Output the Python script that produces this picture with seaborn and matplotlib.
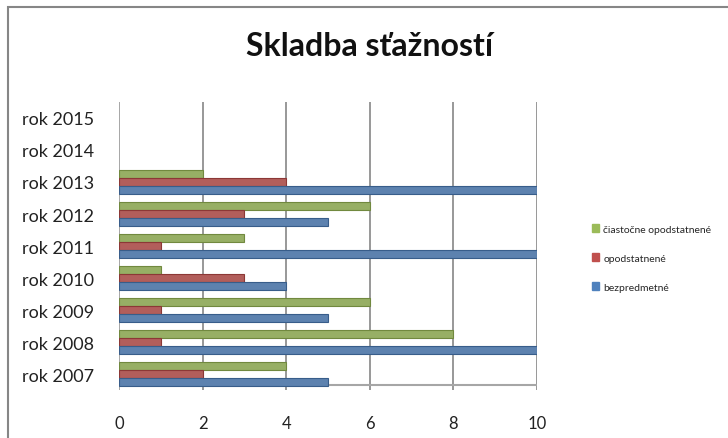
import numpy as np
import pandas as pd
import matplotlib
matplotlib.use('Agg')
import matplotlib.pyplot as plt
import seaborn as sns
from matplotlib.patches import Rectangle

# Data
years = ['rok 2007', 'rok 2008', 'rok 2009', 'rok 2010', 'rok 2011',
         'rok 2012', 'rok 2013', 'rok 2014', 'rok 2015']
bezpredmetne = [5, 10, 5, 4, 10, 5, 10, 0, 0]
opodstatnene = [2, 1, 1, 3, 1, 3, 4, 0, 0]
ciastocne = [4, 8, 6, 1, 3, 6, 2, 0, 0]

series_names = ['čiastočne opodstatnené', 'opodstatnené', 'bezpredmetné']
series_colors = ['#9BBB59', '#C0504D', '#4F81BD']
edge_colors = ['#71893F', '#8C3836', '#385D8A']

rows = []
for name, vals in zip(series_names, [ciastocne, opodstatnene, bezpredmetne]):
    for y, v in zip(years, vals):
        rows.append({'rok': y, 'séria': name, 'počet': v})
df = pd.DataFrame(rows)

sns.set_style('white')
plt.rcParams['font.family'] = ['Lato', 'DejaVu Sans']

fig = plt.figure(figsize=(7.28, 4.39), dpi=100)
ax = fig.add_axes([0.1635, 0.1093, 0.5741, 0.6561])

sns.barplot(data=df, x='počet', y='rok', hue='séria', orient='h',
            order=years[::-1], hue_order=series_names,
            palette=series_colors, width=0.78, ax=ax, legend=False)

# darker edges to mimic the Excel bar shading (none on empty years)
for cont, ec in zip(ax.containers, edge_colors):
    for bar in cont:
        bar.set_edgecolor(ec)
        bar.set_linewidth(0.8 if bar.get_width() > 0 else 0)

ax.set_xlim(0, 10)
ax.set_xticks([0, 2, 4, 6, 8, 10])
ax.set_xlabel('')
ax.set_ylabel('')
for s in ['top', 'right', 'bottom', 'left']:
    ax.spines[s].set_visible(False)
ax.axvline(0, color='#A6A6A6', lw=1.4, zorder=0.5)
for xv in [2, 4, 6, 8, 10]:
    ax.axvline(xv, color='#868686', lw=1.2, zorder=0)
ax.axhline(8.35, color='#A6A6A6', lw=1.5, zorder=0)
ax.tick_params(axis='x', labelsize=12, length=0, pad=18, colors='#222222')
ax.tick_params(axis='y', labelsize=13, length=0, pad=18, colors='#222222')

fig.text(0.508, 0.893, 'Skladba sťažností', ha='center', va='center',
         fontsize=23, fontweight='bold', color='#111111')

handles = [Rectangle((0, 0), 1, 1, color=c) for c in series_colors]
fig.legend(handles, series_names, loc='center left',
           bbox_to_anchor=(0.8, 0.41), frameon=False, fontsize=7.5,
           handlelength=0.7, handleheight=0.7, handletextpad=0.4,
           labelspacing=1.9)

# chart border (right/bottom edges fall outside the picture)
fig.patches.append(Rectangle((0.011, -0.1), 1.2, 1.082, transform=fig.transFigure,
                             fill=False, edgecolor='#868686', lw=1.5))

fig.savefig('out.png', dpi=100)
